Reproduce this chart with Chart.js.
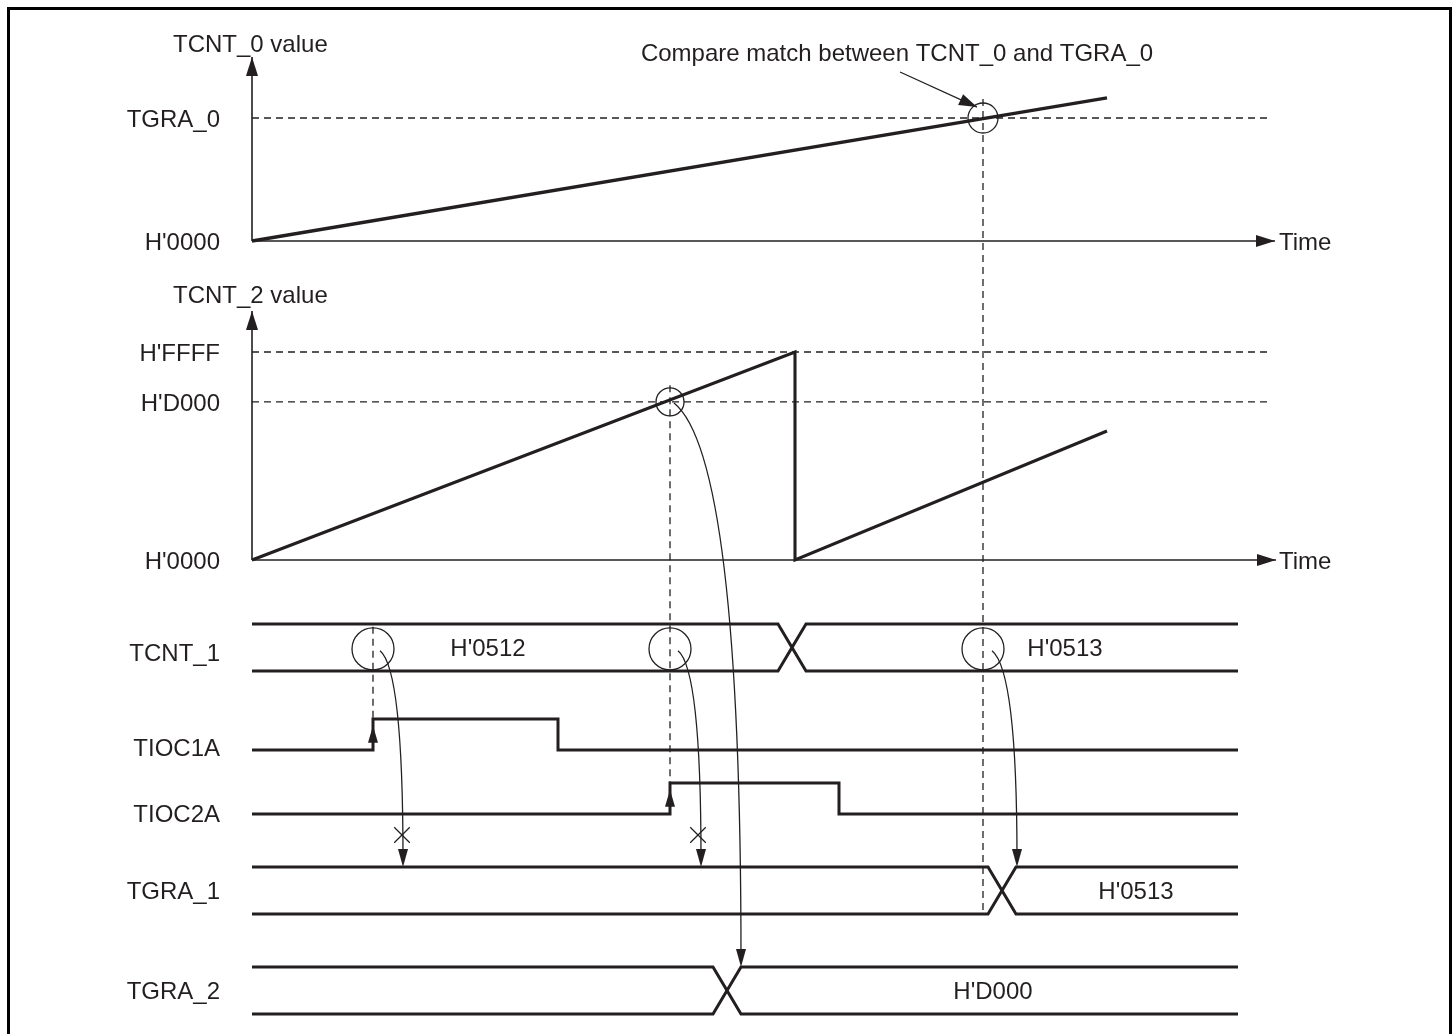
<!DOCTYPE html>
<html>
<head>
<meta charset="utf-8">
<script src="https://cdn.jsdelivr.net/npm/chart.js@4.4.1/dist/chart.umd.min.js"></script>
<style>
  html, body { margin: 0; padding: 0; background: #fff; }
  canvas { display: block; }
</style>
</head>
<body>
<canvas id="timing" width="1455" height="1034"></canvas>
<script>
// Cascade timing: TCNT_2 compare / TCNT_0 compare match capture into TGRA_1 / TGRA_2

// ---- data: time in clock slots (0 = counter origin), counter values relative ----
const rampEnd = 855;
const tcnt0Times = [0, rampEnd];
const tcnt0Values = [0, 1.163];           // TGRA_0 = 1
const tgra0Match = 731;

const tcnt2Times = [0, 543, 543, rampEnd];
const tcnt2Values = [0, 1, 0, 0.62];      // H'FFFF = 1
const tcnt2Marks = [1, 0.76];             // H'FFFF, H'D000
const tcnt2MarkNames = ["H'FFFF", "H'D000"];
const d000Match = 418;

const tioc1aTimes = [0, 121, 121, 306, 306, 986];
const tioc1aLevels = [0, 0, 1, 1, 0, 0];
const tioc2aTimes = [0, 418, 418, 587, 587, 986];
const tioc2aLevels = [0, 0, 1, 1, 0, 0];

const busEnd = 986;
const swapTime = 28;
const tcnt1Change = 526;
const tcnt1Values = ["H'0512", "H'0513"];
const tcnt1ValueTimes = [236, 813];
const tgra1Change = 736;
const tgra1Values = ["H'0513"];
const tgra1ValueTimes = [884];
const tgra2Change = 461;
const tgra2Values = ["H'D000"];
const tgra2ValueTimes = [741];

const tcnt1Samples = [121, 418, 731];     // circled TCNT_1 at each event
const blockedTimes = [150, 446];          // transfers that do not happen

// transfers: [time, axis, level] -> [time, axis, level]
const transfers = [
  [[128, 'tcnt1', 0.43], [151, 'tgra1', 1]],
  [[426, 'tcnt1', 0.43], [449, 'tgra1', 1]],
  [[740, 'tcnt1', 0.43], [765, 'tgra1', 1]],
  [[422, 'y2', 0.755], [489, 'tgra2', 1]],
];

// dashed event guides: time, [axis, level] from, [axis, level] to
const guides = [
  [tgra0Match, ['y0', 1.154], ['tgra1', 0]],
  [d000Match, ['y2', 0.84], ['tioc2a', 1]],
  [121, ['tcnt1', 0.94], ['tioc1a', 1]],
];

// ---- layout ----
const W = 1455, H = 1034;
const ink = '#231f20';
const font = '24px "Liberation Sans", Arial, Helvetica, sans-serif';
const timeOrigin = 252;                   // pixel of t = 0
const bands = {                           // pixel of level 0 and level 1
  y0: [241, 118],
  y2: [560, 352],
  tcnt1: [671, 624],
  tioc1a: [750, 719],
  tioc2a: [814, 783],
  tgra1: [914, 867],
  tgra2: [1014, 967],
};
const labelEnd = -32;
const laneNames = [
  ['tcnt1', 'TCNT_1', 0.4], ['tioc1a', 'TIOC1A', 0.1], ['tioc2a', 'TIOC2A', 0.03],
  ['tgra1', 'TGRA_1', 0.5], ['tgra2', 'TGRA_2', 0.5],
];

const pts = (xs, ys) => xs.map((x, i) => ({ x, y: ys[i] }));

function line(data, axis, width, extra = {}) {
  return {
    data, yAxisID: axis, showLine: true, borderColor: ink, borderWidth: width,
    pointRadius: 0, fill: false, tension: 0, clip: false, ...extra,
  };
}

function bus(axis, change) {
  const t2 = change + swapTime;
  return [
    line(pts([0, change, t2, busEnd], [1, 1, 0, 0]), axis, 3),
    line(pts([0, change, t2, busEnd], [0, 0, 1, 1]), axis, 3),
  ];
}

function marks(data, axis, radius, style = 'circle') {
  return {
    data, yAxisID: axis, showLine: false, pointStyle: style, pointRadius: radius,
    pointBackgroundColor: 'transparent', pointBorderColor: ink, pointBorderWidth: 1.3, clip: false,
  };
}

const dash = { borderDash: [7, 5], borderWidth: 1.3 };

const datasets = [
  // TCNT_0 plot
  line(pts([0, 0], [0, 1.496]), 'y0', 1.6, { arrow: true }),
  line(pts([0, 1023], [0, 0]), 'y0', 1.6, { arrow: true }),
  line(pts([0, 1016], [1, 1]), 'y0', 1.3, dash),
  line(pts(tcnt0Times, tcnt0Values), 'y0', 3.3),
  marks([{ x: tgra0Match, y: 1 }], 'y0', 15),
  // TCNT_2 plot
  line(pts([0, 0], [0, 1.197]), 'y2', 1.6, { arrow: true }),
  line(pts([0, 1024], [0, 0]), 'y2', 1.6, { arrow: true }),
  ...tcnt2Marks.map(v => line(pts([0, 1016], [v, v]), 'y2', 1.3, dash)),
  line(pts(tcnt2Times, tcnt2Values), 'y2', 3.1),
  marks([{ x: d000Match, y: tcnt2Marks[1] }], 'y2', 14),
  // signals
  ...bus('tcnt1', tcnt1Change),
  marks(tcnt1Samples.map(x => ({ x, y: 0.47 })), 'tcnt1', 21),
  line(pts(tioc1aTimes, tioc1aLevels), 'tioc1a', 3),
  line(pts(tioc2aTimes, tioc2aLevels), 'tioc2a', 3),
  ...bus('tgra1', tgra1Change),
  ...bus('tgra2', tgra2Change),
  marks(blockedTimes.map(x => ({ x, y: 1.68 })), 'tgra1', 11, 'crossRot'),
];

const scales = {
  x: { type: 'linear', display: false, min: -timeOrigin, max: W - timeOrigin },
};
for (const [id, [p0, p1]] of Object.entries(bands)) {
  const s = p0 - p1;
  const min = (p0 - H) / s;
  scales[id] = { type: 'linear', display: false, min, max: min + H / s };
}

function arrowHead(ctx, tip, from, len, half) {
  const a = Math.atan2(tip.y - from.y, tip.x - from.x);
  ctx.save();
  ctx.translate(tip.x, tip.y);
  ctx.rotate(a);
  ctx.beginPath();
  ctx.moveTo(0, 0);
  ctx.lineTo(-len, -half);
  ctx.lineTo(-len, half);
  ctx.closePath();
  ctx.fill();
  ctx.restore();
}

const diagram = {
  id: 'diagram',
  beforeDraw(chart) {
    const ctx = chart.ctx;
    ctx.save();
    ctx.fillStyle = '#fff';
    ctx.fillRect(0, 0, chart.width, chart.height);
    ctx.strokeStyle = '#000';
    ctx.lineWidth = 3;
    ctx.strokeRect(8.5, 8.5, 1442, chart.height + 20);
    ctx.restore();
  },
  afterDatasetsDraw(chart) {
    const ctx = chart.ctx;
    const at = (t, axis, v) => ({
      x: chart.scales.x.getPixelForValue(t),
      y: chart.scales[axis].getPixelForValue(v),
    });
    ctx.save();
    ctx.strokeStyle = ink;
    ctx.fillStyle = ink;

    // event guides
    ctx.lineWidth = 1.3;
    ctx.setLineDash([7, 5]);
    guides.forEach(([t, from, to]) => {
      const a = at(t, from[0], from[1]);
      const b = at(t, to[0], to[1]);
      ctx.beginPath();
      ctx.moveTo(a.x, a.y);
      ctx.lineTo(b.x, b.y);
      ctx.stroke();
    });
    ctx.setLineDash([]);

    // axis arrows
    chart.data.datasets.forEach((ds, i) => {
      if (!ds.arrow) return;
      const el = chart.getDatasetMeta(i).data;
      arrowHead(ctx, el[el.length - 1], el[el.length - 2], 19, 6);
    });

    // output edges
    [[121, 'tioc1a'], [418, 'tioc2a']].forEach(([t, lane]) => {
      arrowHead(ctx, at(t, lane, 0.78), at(t, lane, 0), 17, 5);
    });

    // transfer curves
    ctx.lineWidth = 1.3;
    transfers.forEach(([from, to]) => {
      const a = at(...from);
      const b = at(...to);
      const c = { x: b.x, y: a.y + (b.x - a.x) * 0.8 };
      ctx.beginPath();
      ctx.moveTo(a.x, a.y);
      ctx.quadraticCurveTo(c.x, c.y, b.x, b.y - 8);
      ctx.stroke();
      arrowHead(ctx, b, { x: b.x, y: b.y - 20 }, 18, 5);
    });

    // compare match note
    const n0 = at(648, 'y0', 1.374);
    const n1 = at(725, 'y0', 1.089);
    ctx.beginPath();
    ctx.moveTo(n0.x, n0.y);
    ctx.lineTo(n1.x, n1.y);
    ctx.stroke();
    arrowHead(ctx, n1, n0, 18, 6);

    // text
    ctx.font = font;
    const text = (s, t, axis, v, align) => {
      const p = at(t, axis, v);
      ctx.textAlign = align;
      ctx.fillText(s, p.x, p.y + 8.6);
    };
    text('Compare match between TCNT_0 and TGRA_0', 645, 'y0', 1.537, 'center');
    text('TCNT_0 value', -79, 'y0', 1.61, 'left');
    text('TCNT_2 value', -79, 'y2', 1.279, 'left');
    text('TGRA_0', labelEnd, 'y0', 1, 'right');
    text("H'0000", labelEnd, 'y0', 0, 'right');
    tcnt2MarkNames.forEach((s, i) => text(s, labelEnd, 'y2', tcnt2Marks[i], 'right'));
    text("H'0000", labelEnd, 'y2', 0, 'right');
    text('Time', 1027, 'y0', 0, 'left');
    text('Time', 1027, 'y2', 0, 'left');
    laneNames.forEach(([lane, s, v]) => text(s, labelEnd, lane, v, 'right'));
    tcnt1Values.forEach((s, i) => text(s, tcnt1ValueTimes[i], 'tcnt1', 0.5, 'center'));
    tgra1Values.forEach((s, i) => text(s, tgra1ValueTimes[i], 'tgra1', 0.5, 'center'));
    tgra2Values.forEach((s, i) => text(s, tgra2ValueTimes[i], 'tgra2', 0.5, 'center'));
    ctx.restore();
  },
};

new Chart(document.getElementById('timing'), {
  type: 'scatter',
  data: { datasets },
  options: {
    responsive: false,
    animation: false,
    devicePixelRatio: 1,
    events: [],
    layout: { padding: 0, autoPadding: false },
    plugins: { legend: { display: false }, tooltip: { enabled: false } },
    scales,
  },
  plugins: [diagram],
});
</script>
</body>
</html>
